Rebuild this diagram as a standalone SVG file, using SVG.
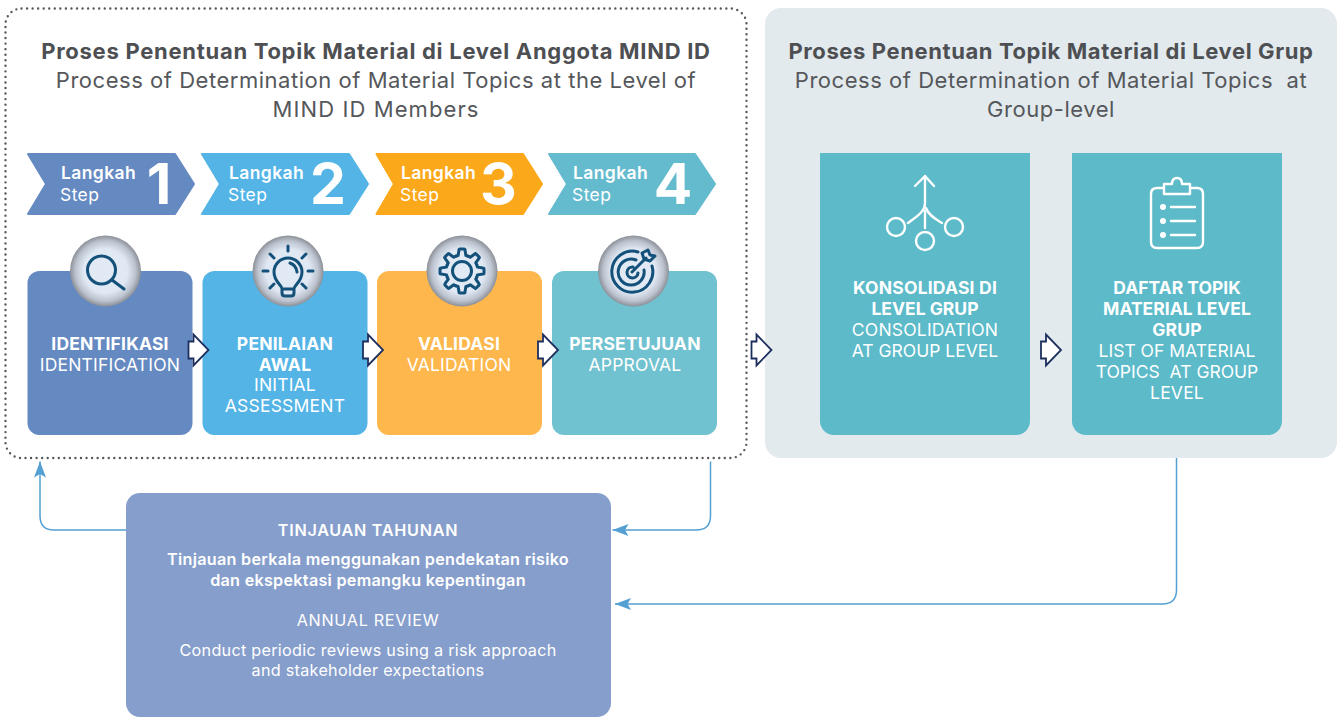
<svg xmlns="http://www.w3.org/2000/svg" xmlns:xlink="http://www.w3.org/1999/xlink" width="1339" height="717" viewBox="0 0 1339 717">
<style>
text{font-family:Inter,"Open Sans","Liberation Sans",sans-serif;text-anchor:middle;white-space:pre}
.t{font-size:22px;fill:#55575b;letter-spacing:.53px}.tb{font-weight:700;letter-spacing:.72px;fill:#4d4f53}.tg{letter-spacing:.6px}.tm{letter-spacing:1.1px}
.w{fill:#fff}.l{font-size:17.5px;letter-spacing:.2px}.b{font-weight:700}.nar{letter-spacing:0}
.sl{font-size:17.5px;text-anchor:start;fill:#fff;letter-spacing:.4px}.sb{font-weight:600}.n{font-size:57px;font-weight:700;fill:#fff}
.c{fill:none;stroke:#54a0d2;stroke-width:1.5}
.sa{fill:#fff;stroke:#1d2f5f;stroke-width:1.8;stroke-linejoin:miter}
.ic{fill:none;stroke:#14517a;stroke-width:3;stroke-linecap:round;stroke-linejoin:round}
.iw{fill:none;stroke:#fff;stroke-width:2.4;stroke-linecap:round;stroke-linejoin:round}
.d{font-size:16.2px;letter-spacing:.27px}.cap{letter-spacing:.7px}
</style>
<defs>
<radialGradient id="g"><stop offset="0" stop-color="#e1eaf5"/><stop offset=".62" stop-color="#dfe8f3"/><stop offset=".85" stop-color="#bcc3ce"/><stop offset="1" stop-color="#8b8f97"/></radialGradient>
<marker id="ah" markerUnits="userSpaceOnUse" markerWidth="18" markerHeight="14" refX="16" refY="6.5" orient="auto-start-reverse" viewBox="0 0 18 13"><path d="M16 6.5L0 0.5 3.5 6.5 0 12.5Z" fill="#54a0d2"/></marker>
<polygon id="sa" class="sa" points="0,-8.5 5,-8.5 5,-15.500 20,0 5,15.500 5,8.5 0,8.5"/>
<path id="tooth" d="M-6.12-14.78A16 16 0 0 1-3.87-15.5L-3-21Q-3-22-2-22H2Q3-22 3-21L3.87-15.5A16 16 0 0 1 6.12-14.78"/>
</defs>

<g id="panel-members"><rect x="5.5" y="8.5" width="741" height="449.5" rx="16" fill="#fff" stroke="#55585c" stroke-width="2.4" stroke-linecap="round" stroke-dasharray="0 5.55"/>
<text class="t tb" x="376" y="59">Proses Penentuan Topik Material di Level Anggota MIND ID</text>
<text class="t" x="376" y="88">Process of Determination of Material Topics at the Level of</text>
<text class="t tm" x="376" y="117">MIND ID Members</text></g>

<g id="panel-group"><rect x="765" y="8" width="572" height="450" rx="16" fill="#e2eaed"/>
<text class="t tb tg" x="1051" y="59">Proses Penentuan Topik Material di Level Grup</text>
<text class="t" x="1051" y="88">Process of Determination of Material Topics  at</text>
<text class="t" x="1051" y="117">Group-level</text></g>

<g id="step-1"><polygon points="28,154 175,154 194,184 175,214 28,214 46,184" fill="#6589c1" stroke="#6589c1" stroke-width="2" stroke-linejoin="round"/><text class="sl sb" x="61" y="179">Langkah</text><text class="sl" x="60" y="201">Step</text><text class="n" x="159" y="204">1</text></g>
<g id="step-2"><polygon points="202,154 349,154 368,184 349,214 202,214 220,184" fill="#54b4e6" stroke="#54b4e6" stroke-width="2" stroke-linejoin="round"/><text class="sl sb" x="229" y="179">Langkah</text><text class="sl" x="228" y="201">Step</text><text class="n" x="328" y="204">2</text></g>
<g id="step-3"><polygon points="376.500,154 523,154 542,184 523,214 376.500,214 394,184" fill="#fca81b" stroke="#fca81b" stroke-width="2" stroke-linejoin="round"/><text class="sl sb" x="401" y="179">Langkah</text><text class="sl" x="400" y="201">Step</text><text class="n" x="498.500" y="204">3</text></g>
<g id="step-4"><polygon points="549,154 695,154 715,184 695,214 549,214 567,184" fill="#65bbce" stroke="#65bbce" stroke-width="2" stroke-linejoin="round"/><text class="sl sb" x="573" y="179">Langkah</text><text class="sl" x="572" y="201">Step</text><text class="n" x="673" y="204">4</text></g>

<g id="box-identifikasi"><rect x="27.500" y="271" width="165" height="164" rx="12" fill="#6589c1"/>
<circle cx="105.500" cy="271" r="35.500" fill="url(#g)"/>
<circle class="ic" cx="101.500" cy="270" r="14"/><path class="ic" d="M112 280L124 289"/>
<g class="w l"><text class="b" x="110" y="350">IDENTIFIKASI</text><text x="110" y="371">IDENTIFICATION</text></g></g>

<g id="box-penilaian"><rect x="202.500" y="271" width="165" height="164" rx="12" fill="#54b4e6"/>
<circle cx="288" cy="271" r="35.500" fill="url(#g)"/>
<path class="ic" d="M282 293v-4c0-4-8-7-8-17a14 14 0 0 1 28 0c0 10-8 13-8 17v4q0 3-3 3h-6q-3 0-3-3zM282 289h12M290 263q6 2 7 9M288 246v5M270 254l4 4M306 254l-4 4M263 271h5M313 271h-5M270 288l4-4M306 288l-4-4"/>
<g class="w l"><text class="b" x="285" y="350">PENILAIAN</text><text class="b" x="285" y="371">AWAL</text><text x="285" y="391">INITIAL</text><text x="285" y="412">ASSESSMENT</text></g></g>

<g id="box-validasi"><rect x="377" y="271" width="165" height="164" rx="12" fill="#fdb74c"/>
<circle cx="462" cy="271" r="35.500" fill="url(#g)"/>
<g class="ic" transform="translate(462 271)"><use xlink:href="#tooth"/><use xlink:href="#tooth" transform="rotate(45)"/><use xlink:href="#tooth" transform="rotate(90)"/><use xlink:href="#tooth" transform="rotate(135)"/><use xlink:href="#tooth" transform="rotate(180)"/><use xlink:href="#tooth" transform="rotate(225)"/><use xlink:href="#tooth" transform="rotate(270)"/><use xlink:href="#tooth" transform="rotate(315)"/><circle r="9.500"/></g>
<g class="w l"><text class="b" x="459" y="350">VALIDASI</text><text x="459" y="371">VALIDATION</text></g></g>

<g id="box-persetujuan"><rect x="552" y="271" width="165" height="164" rx="12" fill="#71c2d0"/>
<circle cx="633.500" cy="271" r="35.500" fill="url(#g)"/>
<path class="ic" d="M638 252A20.500 20.500 0 1 0 652 266M636 260A13 13 0 1 0 644 270M633 267A5.500 5.500 0 1 0 638 273M632 272L646 258M642 253L644 259 650 261 655 256 650 255 648 250Z"/>
<g class="w l"><text class="b" x="635" y="350">PERSETUJUAN</text><text x="635" y="371">APPROVAL</text></g></g>

<g id="box-konsolidasi"><path d="M820 153H1030V421a14 14 0 0 1-14 14H834a14 14 0 0 1-14-14Z" fill="#5cbac9"/>
<path class="iw" d="M915 186L925 176 934 186M925 176V203C925 212 916 217 908 223M926 208C929 216 936 219 942 223M925 211V228"/>
<circle class="iw" cx="896" cy="227" r="9"/><circle class="iw" cx="925" cy="241" r="9"/><circle class="iw" cx="954" cy="227" r="9"/>
<g class="w l"><text class="b" x="925" y="294">KONSOLIDASI DI</text><text class="b nar" x="925" y="315">LEVEL GRUP</text><text x="925" y="336">CONSOLIDATION</text><text class="nar" x="925" y="357">AT GROUP LEVEL</text></g></g>

<g id="box-daftar"><path d="M1072 153H1282V421a14 14 0 0 1-14 14H1086a14 14 0 0 1-14-14Z" fill="#5cbac9"/>
<path class="iw" d="M1164 188H1157Q1151 188 1151 194V242Q1151 248 1157 248H1197Q1203 248 1203 242V194Q1203 188 1197 188H1190M1164 184H1172Q1172 178 1177 178 1182 178 1182 184H1190V194H1164ZM1171 207H1195M1171 221H1195M1171 235H1195"/>
<circle cx="1163" cy="207" r="3" fill="#fff"/><circle cx="1163" cy="221" r="3" fill="#fff"/><circle cx="1163" cy="235" r="3" fill="#fff"/>
<g class="w l"><text class="b nar" x="1177" y="294">DAFTAR TOPIK</text><text class="b nar" x="1177" y="315">MATERIAL LEVEL</text><text class="b" x="1177" y="336">GRUP</text><text class="nar" x="1177" y="357">LIST OF MATERIAL</text><text class="nar" x="1177" y="378">TOPICS  AT GROUP</text><text x="1177" y="399">LEVEL</text></g></g>

<g id="box-tinjauan"><path d="M140 493H597a14 14 0 0 1 14 14V703a14 14 0 0 1-14 14H140a14 14 0 0 1-14-14V507a14 14 0 0 1 14-14Z" fill="#869ecb"/>
<g class="w d"><text class="cap" font-weight="600" x="368" y="536">TINJAUAN TAHUNAN</text><text font-weight="600" x="368" y="565">Tinjauan berkala menggunakan pendekatan risiko</text><text font-weight="600" x="368" y="586">dan ekspektasi pemangku kepentingan</text><text class="cap" x="368" y="626">ANNUAL REVIEW</text><text x="368" y="656">Conduct periodic reviews using a risk approach</text><text x="368" y="676">and stakeholder expectations</text></g></g>

<g id="connectors">
<path class="c" marker-end="url(#ah)" d="M126 530H54Q40 530 40 516V461.500"/>
<path class="c" marker-end="url(#ah)" d="M710.500 461.500V516Q710.500 530 696 530H612.500"/>
<path class="c" marker-end="url(#ah)" d="M1176.500 458V590Q1176.500 604 1162 604H615"/>
<use xlink:href="#sa" x="188.500" y="350"/><use xlink:href="#sa" x="363" y="350"/><use xlink:href="#sa" x="538" y="350"/><use xlink:href="#sa" x="751.500" y="350"/><use xlink:href="#sa" x="1041" y="350"/>
</g>
</svg>
